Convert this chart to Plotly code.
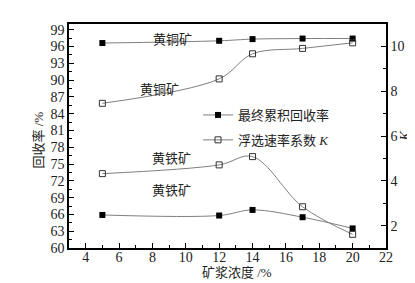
import plotly.graph_objects as go

conc = [5, 12, 14, 17, 20]
rec_cu = [96.6, 97.0, 97.3, 97.4, 97.4]
rec_fe = [65.9, 65.8, 66.8, 65.5, 63.5]
k_cu = [7.46, 8.55, 9.67, 9.91, 10.16]
k_fe = [4.32, 4.71, 5.08, 2.84, 1.61]

FONT = "Liberation Serif, Noto Sans CJK SC"
LINE = "#808080"

fig = go.Figure()
for ys, show in [(rec_cu, True), (rec_fe, False)]:
    fig.add_trace(go.Scatter(x=conc, y=ys, mode="lines+markers", name="最终累积回收率",
                             showlegend=show, legendgroup="r",
                             line=dict(color=LINE, width=1, shape="spline", smoothing=1.0),
                             marker=dict(symbol="square", size=6, color="black")))
for ys, show in [(k_cu, True), (k_fe, False)]:
    fig.add_trace(go.Scatter(x=conc, y=ys, mode="lines+markers", name="浮选速率系数 <i>K</i>",
                             showlegend=show, legendgroup="k", yaxis="y2",
                             line=dict(color=LINE, width=1, shape="spline", smoothing=1.0),
                             marker=dict(symbol="square-open", size=6, color="#333",
                                         line=dict(width=1))))

L, R, T, B = 61, 378, 16, 240
def px(x): return (x - L) / (R - L)
def py(y): return (B - y) / (B - T)

labels = [("黄铜矿", 143, 22), ("黄铜矿", 130, 72), ("黄铁矿", 142, 150), ("黄铁矿", 142, 192)]
anns = [dict(text=t, x=px(x), y=py(y), xref="paper", yref="paper", showarrow=False,
             font=dict(size=13, family=FONT, color="#222")) for t, x, y in labels]
anns.append(dict(text="<i>K</i>", x=px(406), y=py(128), xref="paper", yref="paper",
                 showarrow=False, textangle=-90, font=dict(size=14, family=FONT, color="#222")))
anns.append(dict(text="矿浆浓度 /%", x=px(229), y=py(274), xref="paper", yref="paper",
                 showarrow=False, font=dict(size=13, family=FONT, color="#222")))
anns.append(dict(text="回收率 /%", x=px(20), y=py(132), xref="paper", yref="paper",
                 showarrow=False, textangle=-90, font=dict(size=13, family=FONT, color="#222")))

axcommon = dict(showgrid=False, zeroline=False, showline=True, linecolor="black", linewidth=1.5,
                ticks="inside", ticklen=5, tickcolor="black", automargin=False,
                tickfont=dict(size=14, family=FONT, color="#222"))

fig.update_layout(
    width=415, height=283, margin=dict(l=L, r=415 - R, t=T, b=283 - B),
    paper_bgcolor="white", plot_bgcolor="white",
    font=dict(family=FONT, color="#222"),
    xaxis=dict(range=[3, 22], tickvals=[4, 6, 8, 10, 12, 14, 16, 18, 20, 22], mirror=True,
               ticklabelstandoff=-5,
               minor=dict(ticks="inside", ticklen=3, dtick=1, tickcolor="black"), **axcommon),
    yaxis=dict(range=[60, 100], tickvals=list(range(60, 100, 3)),
               minor=dict(ticks="inside", ticklen=3, tickvals=[x + 1.5 for x in range(60, 99, 3)], tickcolor="black"),
               **axcommon),
    yaxis2=dict(range=[1, 11], tickvals=[2, 4, 6, 8, 10], overlaying="y", side="right",
                minor=dict(ticks="inside", ticklen=3, tickvals=[3, 5, 7, 9], tickcolor="black"),
                **axcommon),
    legend=dict(x=px(190), y=py(92), xanchor="left", yanchor="top", bgcolor="rgba(0,0,0,0)",
                font=dict(size=13, family=FONT), tracegroupgap=5, itemwidth=30),
    annotations=anns,
)
fig.write_html("out.html")
